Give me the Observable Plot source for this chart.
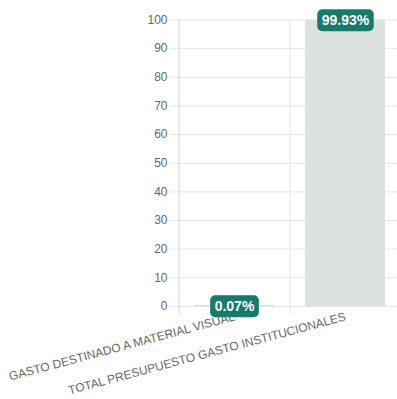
<!DOCTYPE html>
<html>
<head>
<meta charset="utf-8">
<script src="https://cdn.jsdelivr.net/npm/d3@7"></script>
<script src="https://cdn.jsdelivr.net/npm/@observablehq/plot@0.6"></script>
<style>
  html, body { margin: 0; padding: 0; background: #fff; }
  #chart svg { display: block; font-family: "Liberation Sans", Arial, Helvetica, sans-serif; }
</style>
</head>
<body>
<div id="chart"></div>
<script>
const categories = ["GASTO DESTINADO A MATERIAL VISUAL", "TOTAL PRESUPUESTO GASTO INSTITUCIONALES"];
const values = [0.07, 99.93];
const barColors = ["#177a6d", "#dce2e2"];
const labels = ["0.07%", "99.93%"];
const yTicks = [0, 10, 20, 30, 40, 50, 60, 70, 80, 90, 100];

const data = categories.map((c, i) => ({cat: c, value: values[i], color: barColors[i], label: labels[i]}));

const badgeFont = "bold 14px 'Liberation Sans', Arial, Helvetica, sans-serif";
const measureCtx = document.createElement("canvas").getContext("2d");
measureCtx.font = badgeFont;

function badgeRender(index, scales, values, dims, context, next) {
  const g = next(index, scales, values, dims, context);
  const texts = Array.from(g.querySelectorAll("text"));
  texts.forEach(t => {
    const w = measureCtx.measureText(t.textContent).width + 9;
    const h = 22;
    const tr = t.getAttribute("transform") || "";
    const m = /translate\(([-\d.]+),\s*([-\d.]+)\)/.exec(tr);
    let x = +t.getAttribute("x") || 0, y = +t.getAttribute("y") || 0;
    if (m) { x += +m[1]; y += +m[2]; }
    const r = document.createElementNS("http://www.w3.org/2000/svg", "rect");
    r.setAttribute("x", x - w / 2);
    r.setAttribute("y", y - h / 2);
    r.setAttribute("width", w);
    r.setAttribute("height", h);
    r.setAttribute("rx", 5);
    r.setAttribute("fill", "#177a6d");
    t.parentNode.insertBefore(r, t);
  });
  return g;
}

const chart = Plot.plot({
  width: 397,
  height: 399,
  marginLeft: 178,
  marginRight: 0,
  marginTop: 19,
  marginBottom: 93,
  style: {fontFamily: "'Liberation Sans', Arial, Helvetica, sans-serif", fontSize: "12px", color: "#666"},
  x: {domain: categories, range: [178, 400], paddingInner: 0.28, paddingOuter: 0.14},
  y: {domain: [0, 100], range: [306, 19.5]},
  marks: [
    Plot.gridY(yTicks, {stroke: "#e6e6e6", strokeOpacity: 1}),
    Plot.axisY(yTicks, {tickSize: 8, tickPadding: 3, stroke: "#e6e6e6", strokeOpacity: 1, fill: "#666", fontSize: 12, label: null}),
    Plot.ruleX(categories, {x: d => d, dx: -55.5, y1: 100, y2: 0, insetBottom: -8, stroke: (d, i) => i === 0 ? "#d0d0d0" : "#e6e6e6"}),
    Plot.barY(data, {x: "cat", y: "value", fill: "color"}),
    Plot.axisX({tickSize: 0, tickPadding: 10, tickRotate: -15, fill: "#666", fontSize: 12, label: null}),
    Plot.text(data, {x: "cat", y: "value", text: "label", fill: "white", fontSize: 14, fontWeight: "bold", render: badgeRender})
  ]
});
document.getElementById("chart").appendChild(chart);
</script>
</body>
</html>
